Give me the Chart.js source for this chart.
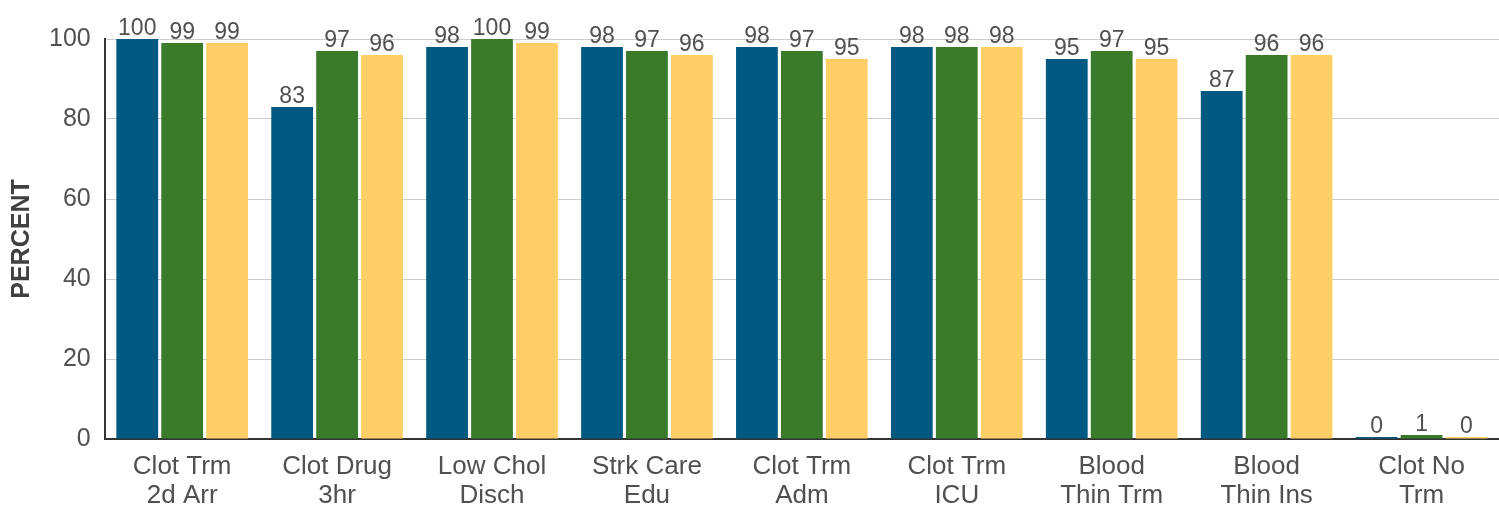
<!DOCTYPE html>
<html>
<head>
<meta charset="utf-8">
<script src="https://cdn.jsdelivr.net/npm/chart.js@4"></script>
<style>
  html, body { margin: 0; padding: 0; background: #fff; }
  #wrap { width: 1499px; height: 505px; }
</style>
</head>
<body>
<div id="wrap"><canvas id="chart"></canvas></div>
<script>
// categories and series
const categories = [
    ['Clot Trm', '2d Arr'],
    ['Clot Drug', '3hr'],
    ['Low Chol', 'Disch'],
    ['Strk Care', 'Edu'],
    ['Clot Trm', 'Adm'],
    ['Clot Trm', 'ICU'],
    ['Blood', 'Thin Trm'],
    ['Blood', 'Thin Ins'],
    ['Clot No', 'Trm']
];
const seriesA = [100, 83, 98, 98, 98, 98, 95, 87, 0];
const seriesB = [99, 97, 100, 97, 97, 98, 97, 96, 1];
const seriesC = [99, 96, 99, 96, 95, 98, 95, 96, 0];
const yTicks = [0, 20, 40, 60, 80, 100];

const FONT = 'Liberation Sans, Arial, sans-serif';

// draws the value above each bar
const valueLabels = {
    id: 'valueLabels',
    afterDatasetsDraw(chart) {
        const ctx = chart.ctx;
        ctx.save();
        ctx.font = `23px ${FONT}`;
        ctx.fillStyle = '#505050';
        ctx.textAlign = 'center';
        ctx.textBaseline = 'alphabetic';
        chart.data.datasets.forEach((ds, i) => {
            chart.getDatasetMeta(i).data.forEach((bar, j) => {
                ctx.fillText(ds.data[j], bar.x, bar.y - 4);
            });
        });
        ctx.restore();
    }
};

new Chart(document.getElementById('chart'), {
    type: 'bar',
    data: {
        labels: categories,
        datasets: [
            { data: seriesA, backgroundColor: '#005981' },
            { data: seriesB, backgroundColor: '#3a7a2b' },
            { data: seriesC, backgroundColor: '#fecf66' }
        ]
    },
    options: {
        responsive: true,
        maintainAspectRatio: false,
        animation: false,
        categoryPercentage: 0.87,
        barPercentage: 0.93,
        minBarLength: 2,
        layout: { padding: { top: 39, right: 0, left: 0, bottom: 0 } },
        plugins: {
            legend: { display: false },
            tooltip: { enabled: false }
        },
        scales: {
            x: {
                grid: { display: false },
                border: { color: '#333', width: 2 },
                afterFit(scale) { scale.height = 66; },
                ticks: {
                    color: '#505050',
                    font: { family: FONT, size: 26, lineHeight: 1.1 },
                    padding: 6,
                    maxRotation: 0
                }
            },
            y: {
                min: 0,
                max: 100,
                afterBuildTicks(axis) { axis.ticks = yTicks.map(v => ({ value: v })); },
                grid: { color: '#cccccc', drawTicks: false },
                border: { color: '#333', width: 2 },
                ticks: {
                    color: '#505050',
                    font: { family: FONT, size: 25 },
                    padding: 14
                },
                title: {
                    display: true,
                    text: 'PERCENT',
                    color: '#404040',
                    font: { family: FONT, size: 25, weight: 'bold', lineHeight: 1.0 },
                    padding: { top: 10, bottom: 0 }
                }
            }
        }
    },
    plugins: [valueLabels]
});
</script>
</body>
</html>
